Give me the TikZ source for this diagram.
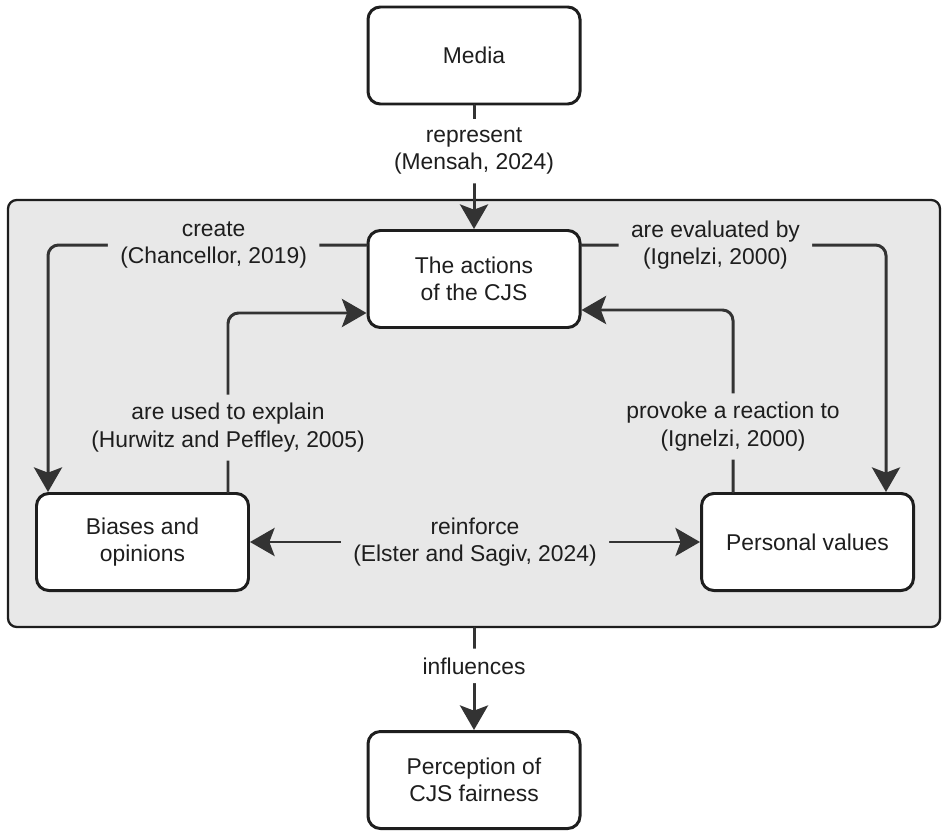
\documentclass[tikz,border=0pt]{standalone}
\usepackage{fontspec}
\setmainfont{Liberation Sans}
\usepackage{xcolor}
\usepackage{tikz}
\usetikzlibrary{arrows.meta,positioning}
\definecolor{cjsInk}{HTML}{1E1E1E}
\definecolor{cjsLine}{HTML}{333333}
\definecolor{cjsPanel}{HTML}{E8E8E8}
\tikzset{
  cjs diagram/.style={font=\fontsize{13}{15.5}\selectfont, text=cjsInk,
    line cap=round, line join=round, >={Stealth[length=14pt,width=16pt,inset=3pt]}},
  cjs box/.style={draw=cjsInk, fill=white, line width=1.7pt,
    rounded corners=7pt, align=center, inner sep=0pt,
    minimum width=4.24cm, minimum height=1.94cm},
  cjs panel/.style={draw=cjsInk, fill=cjsPanel, line width=1.3pt,
    rounded corners=5pt, inner sep=0pt,
    minimum width=18.64cm, minimum height=8.54cm},
  cjs arrow/.style={->, draw=cjsLine, line width=1.7pt, rounded corners=6pt},
  cjs label/.style={fill=white, align=center, inner xsep=7pt, inner ysep=5pt},
  cjs inner label/.style={cjs label, fill=cjsPanel}
}

\begin{document}
\begin{tikzpicture}[cjs diagram]
\useasboundingbox (0,0) rectangle (18.86,-16.72);
\node[cjs panel] (cjs) at (9.48,-8.27) {};
\node[cjs box] (media) at (9.48,-1.11) {Media};
\node[cjs box] (actions) at (9.48,-5.58) {The actions\\of the CJS};
\node[cjs box] (biases) at (2.85,-10.84) {Biases and\\opinions};
\node[cjs box] (values) at (16.15,-10.84) {Personal values};
\node[cjs box] (perception) at (9.48,-15.60) {Perception of\\CJS fairness};
% media and outcome
\draw[cjs arrow] (media) -- (actions)
  node[cjs label, pos=0.37] (represent) {represent\\(Mensah, 2024)};
\draw[cjs arrow] (cjs) -- (perception)
  node[cjs label, pos=0.37] (influences) {influences};
% loops inside the panel
\draw[cjs arrow] ([yshift=-0.32cm]actions.north west) -| ([xshift=0.26cm]biases.north west)
  node[cjs inner label, pos=0.24] (create) {create\\(Chancellor, 2019)};
\draw[cjs arrow] ([xshift=-0.44cm]biases.north east) |- ([yshift=0.32cm]actions.south west)
  node[cjs inner label, pos=0.18] (explain) {are used to explain\\(Hurwitz and Peffley, 2005)};
\draw[cjs arrow] ([yshift=-0.32cm]actions.north east) -| ([xshift=-0.58cm]values.north east)
  node[cjs inner label, pos=0.22] (evaluated) {are evaluated by\\(Ignelzi, 2000)};
\draw[cjs arrow] ([xshift=0.66cm]values.north west) |- ([yshift=0.38cm]actions.south east)
  node[cjs inner label, pos=0.18] (provoke) {provoke a reaction to\\(Ignelzi, 2000)};
\draw[cjs arrow, <->] (biases) -- (values)
  node[cjs inner label, midway] (reinforce) {reinforce\\(Elster and Sagiv, 2024)};
\end{tikzpicture}
\end{document}
